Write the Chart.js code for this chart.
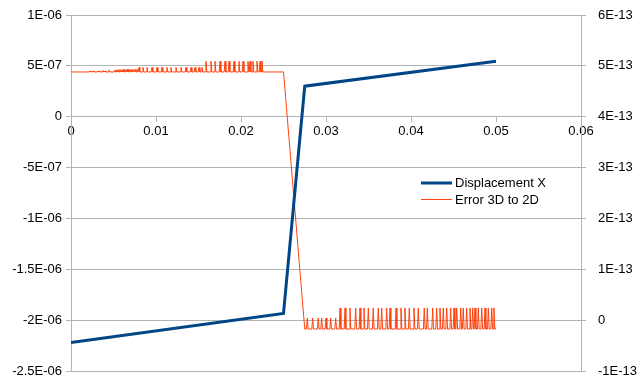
<!DOCTYPE html>
<html>
<head>
<meta charset="utf-8">
<script src="https://cdn.jsdelivr.net/npm/chart.js@4.4.1/dist/chart.umd.min.js"></script>
<style>
    html, body { margin: 0; padding: 0; background: #ffffff; }
    #wrap { width: 641px; height: 385px; }
</style>
</head>
<body>
<div id="wrap"><canvas id="chart" width="641" height="385"></canvas></div>
<script>
// Displacement X (left axis)
const dispX = [0, 0.025, 0.0275, 0.05];
const dispY = [-2.22e-6, -1.935e-6, 3.0e-7, 5.45e-7];

// Error 3D to 2D (right axis): flat level with narrow spikes, a drop, then a lower level with spikes
const errTopBase = 4.88e-13;
const errTopSpikeX = [
    0.00224, 0.00259, 0.00318, 0.00341, 0.00376, 0.0040, 0.00447, 0.00518, 0.00541, 0.00553,
    0.00576, 0.0060, 0.00612, 0.00635, 0.00659, 0.00671, 0.00694, 0.00718, 0.00729, 0.00753, 0.00776,
    0.0080, 0.00847, 0.00894, 0.00953, 0.01012, 0.01071, 0.01129, 0.01176, 0.01235, 0.01294,
    0.01353, 0.01412, 0.01459, 0.01506, 0.01541,
    0.01588, 0.01647, 0.01694, 0.01753, 0.01812, 0.01859, 0.01918, 0.01976, 0.02024, 0.02082,
    0.02106, 0.02141, 0.02188, 0.02224, 0.02247
];
const errTopSpikeY = [
    4.90e-13, 4.90e-13, 4.90e-13, 4.90e-13, 4.91e-13, 4.90e-13, 4.92e-13, 4.92e-13, 4.92e-13, 4.92e-13,
    4.93e-13, 4.92e-13, 4.93e-13, 4.93e-13, 4.93e-13, 4.93e-13, 4.93e-13, 4.93e-13, 4.93e-13, 4.93e-13, 4.93e-13,
    4.97e-13, 4.97e-13, 4.97e-13, 4.97e-13, 4.97e-13, 4.97e-13, 4.97e-13, 4.97e-13, 4.97e-13, 4.97e-13,
    4.97e-13, 4.97e-13, 4.97e-13, 4.97e-13, 4.97e-13,
    5.09e-13, 5.09e-13, 5.09e-13, 5.09e-13, 5.09e-13, 5.09e-13, 5.09e-13, 5.09e-13, 5.09e-13, 5.09e-13,
    5.09e-13, 5.09e-13, 5.09e-13, 5.09e-13, 5.09e-13
];
const errDropX = [0.025, 0.0275];
const errBottomBase = -1.75e-14;
const errBottomSpikeX = [
    0.0278, 0.02843, 0.02909, 0.02949, 0.0300, 0.03055, 0.03114,
    0.03165, 0.03224, 0.03282, 0.03349, 0.0340, 0.03447, 0.03498, 0.03556, 0.03615, 0.03655,
    0.03714, 0.03753, 0.03824, 0.03882, 0.03929, 0.0398, 0.04035, 0.04086, 0.04156, 0.04192,
    0.04255, 0.04302, 0.04341, 0.0438, 0.0442, 0.04467, 0.04506, 0.04538, 0.04585, 0.04615,
    0.04655, 0.04694, 0.04726, 0.04753, 0.04792, 0.04832, 0.04871, 0.0491, 0.0495, 0.04976
];
const errBottomSpikeY = [
    0.43e-14, 0.43e-14, 0.43e-14, 0.43e-14, 0.43e-14, 0.43e-14, 0.43e-14,
    2.4e-14, 2.4e-14, 2.4e-14, 2.4e-14, 2.4e-14, 2.4e-14, 2.4e-14, 2.4e-14, 2.4e-14, 2.4e-14,
    2.4e-14, 2.4e-14, 2.4e-14, 2.4e-14, 2.4e-14, 2.4e-14, 2.4e-14, 2.4e-14, 2.4e-14, 2.4e-14,
    2.4e-14, 2.4e-14, 2.4e-14, 2.4e-14, 2.4e-14, 2.4e-14, 2.4e-14, 2.4e-14, 2.4e-14, 2.4e-14,
    2.4e-14, 2.4e-14, 2.4e-14, 2.4e-14, 2.4e-14, 2.4e-14, 2.4e-14, 2.4e-14, 2.4e-14, 2.4e-14
];
const errEndX = 0.05;

// Axis ticks
const xTicks = [0, 0.01, 0.02, 0.03, 0.04, 0.05, 0.06];
const xTickLabels = ['0', '0.01', '0.02', '0.03', '0.04', '0.05', '0.06'];
const leftTicks = [-2.5e-6, -2e-6, -1.5e-6, -1e-6, -5e-7, 0, 5e-7, 1e-6];
const leftTickLabels = ['-2.5E-06', '-2E-06', '-1.5E-06', '-1E-06', '-5E-07', '0', '5E-07', '1E-06'];
const rightTicks = [-1e-13, 0, 1e-13, 2e-13, 3e-13, 4e-13, 5e-13, 6e-13];
const rightTickLabels = ['-1E-13', '0', '1E-13', '2E-13', '3E-13', '4E-13', '5E-13', '6E-13'];

// build point lists the library needs
const dispPoints = dispX.map((x, i) => ({ x: x, y: dispY[i] }));

function addSpikes(points, base, xs, ys) {
    const w = 0.0001;
    xs.forEach((x, i) => {
        points.push({ x: x - w, y: base });
        points.push({ x: x, y: ys[i] });
        points.push({ x: x + w, y: base });
    });
}

const errPoints = [{ x: 0, y: errTopBase }];
addSpikes(errPoints, errTopBase, errTopSpikeX, errTopSpikeY);
errPoints.push({ x: errDropX[0], y: errTopBase });
errPoints.push({ x: errDropX[1], y: errBottomBase });
addSpikes(errPoints, errBottomBase, errBottomSpikeX, errBottomSpikeY);
errPoints.push({ x: errEndX, y: errBottomBase });

const gridGray = '#b3b3b3';
const tickFont = { family: '"Liberation Sans", Arial, sans-serif', size: 13 };

// legend drawn inside the plot area
const insideLegend = {
    id: 'insideLegend',
    afterDatasetsDraw(chart) {
        const ctx = chart.ctx;
        ctx.save();
        ctx.font = '13px "Liberation Sans", Arial, sans-serif';
        ctx.textBaseline = 'middle';
        chart.data.datasets.forEach((ds, i) => {
            const y = 183 + i * 16.5;
            ctx.strokeStyle = ds.borderColor;
            ctx.lineWidth = ds.borderWidth;
            ctx.beginPath();
            ctx.moveTo(421, y);
            ctx.lineTo(452, y);
            ctx.stroke();
            ctx.fillStyle = '#000000';
            ctx.fillText(ds.label, 455, y + 0.5);
        });
        ctx.restore();
    }
};

// fixed axis widths, no extra label padding above/below the plot
function fixWidth(w) {
    return (scale) => {
        scale.width = w;
        scale.paddingTop = 0;
        scale.paddingBottom = 0;
    };
}

new Chart(document.getElementById('chart').getContext('2d'), {
    type: 'scatter',
    data: {
        datasets: [
            {
                label: 'Displacement X',
                data: dispPoints,
                yAxisID: 'y',
                showLine: true,
                borderColor: '#004586',
                borderWidth: 3,
                pointRadius: 0,
                tension: 0
            },
            {
                label: 'Error 3D to 2D',
                data: errPoints,
                yAxisID: 'y1',
                showLine: true,
                borderColor: '#ff420e',
                borderWidth: 1,
                pointRadius: 0,
                tension: 0
            }
        ]
    },
    options: {
        responsive: false,
        animation: false,
        devicePixelRatio: 1,
        layout: { padding: { top: 15, bottom: 14, left: 0, right: 0 } },
        plugins: {
            legend: { display: false },
            tooltip: { enabled: false }
        },
        scales: {
            x: {
                type: 'linear',
                position: { y: 0 },
                min: 0,
                max: 0.06,
                afterBuildTicks: (scale) => { scale.ticks = xTicks.map(v => ({ value: v })); },
                grid: { drawOnChartArea: false, drawTicks: true, tickLength: 5, color: gridGray },
                border: { display: true, color: gridGray },
                ticks: {
                    font: tickFont,
                    color: '#000000',
                    padding: 2,
                    maxRotation: 0,
                    autoSkip: false,
                    callback: (v, i) => xTickLabels[i]
                }
            },
            y: {
                type: 'linear',
                position: 'left',
                min: -2.5e-6,
                max: 1e-6,
                afterBuildTicks: (scale) => { scale.ticks = leftTicks.map(v => ({ value: v })); },
                afterFit: fixWidth(71),
                grid: { color: gridGray, drawTicks: true, tickLength: 5 },
                border: { display: true, color: gridGray },
                ticks: {
                    font: tickFont,
                    color: '#000000',
                    padding: 4,
                    autoSkip: false,
                    callback: (v, i) => leftTickLabels[i]
                }
            },
            y1: {
                type: 'linear',
                position: 'right',
                min: -1e-13,
                max: 6e-13,
                afterBuildTicks: (scale) => { scale.ticks = rightTicks.map(v => ({ value: v })); },
                afterFit: fixWidth(60),
                grid: { drawOnChartArea: false, color: gridGray, drawTicks: true, tickLength: 5 },
                border: { display: true, color: gridGray },
                ticks: {
                    font: tickFont,
                    color: '#000000',
                    padding: 12,
                    autoSkip: false,
                    callback: (v, i) => rightTickLabels[i]
                }
            }
        }
    },
    plugins: [insideLegend]
});
</script>
</body>
</html>
